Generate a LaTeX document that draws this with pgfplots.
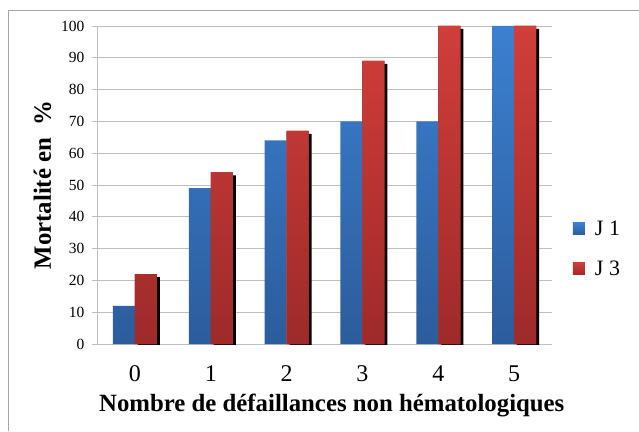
\documentclass[border=0pt]{standalone}
\usepackage{pgfplots}
\pgfplotsset{compat=1.18}
\usepackage{fontspec}
\setmainfont{Liberation Serif}
\definecolor{bluetop}{RGB}{60,128,208}
\definecolor{bluebot}{RGB}{44,92,156}
\definecolor{redtop}{RGB}{208,62,58}
\definecolor{redbot}{RGB}{158,42,42}
\definecolor{gridgray}{RGB}{190,190,190}
\makeatletter
\tikzset{noactions/.code={\let\tikz@preactions\pgfutil@empty\let\tikz@postactions\pgfutil@empty}}
\makeatother
\begin{document}
\begin{tikzpicture}[x=1pt,y=1pt]
\useasboundingbox (0,0) rectangle (639,431);
\draw[gray!70,line width=0.8pt] (8,0) -- (8,421) -- (639,421);
\begin{axis}[
  at={(97pt,87pt)}, anchor=south west,
  scale only axis, width=455pt, height=318pt,
  ybar=0pt, bar width=22pt,
  xmin=-0.5, xmax=5.5, ymin=0, ymax=100,
  xtick={0,1,2,3,4,5},
  xticklabels={0,1,2,3,4,5},
  minor xtick={-0.5,0.5,1.5,2.5,3.5,4.5,5.5},
  ytick={0,10,...,100},
  axis x line*=bottom, axis y line*=left,
  axis line style={gridgray, line width=0.8pt},
  ymajorgrids, grid style={gridgray, line width=0.8pt},
  tick align=outside,
  major tick length=5pt, minor tick length=7pt,
  xtick style={draw=none},
  minor x tick style={gridgray, line width=0.8pt},
  ytick style={gridgray, line width=0.8pt},
  /pgf/number format/assume math mode=true,
  yticklabel style={font=\fontsize{15.5}{17}\selectfont, xshift=-4pt},
  xticklabel style={font=\fontsize{24}{26}\selectfont, anchor=center, yshift=-25pt},
  xlabel={\textbf{Nombre de défaillances non hématologiques}},
  xlabel style={font=\fontsize{24.8}{28}\selectfont, at={(axis description cs:0.516,-0.193)}, anchor=center},
  ylabel={\textbf{Mortalité en~~\%}},
  ylabel style={font=\fontsize{24.8}{28}\selectfont, at={(axis description cs:-0.12,0.5)}, anchor=center},
  legend style={draw=none, fill=none, font=\fontsize{22}{24}\selectfont,
    at={(axis description cs:1.039,0.3)}, anchor=west, row sep=20pt},
  legend image code/.code={\path[#1] (0pt,-6pt) rectangle (12pt,6pt); \path (20pt,0pt);},
]
\addplot[draw=none, top color=bluetop, bottom color=bluebot] coordinates {(0,12) (1,49) (2,64) (3,70) (4,70) (5,100)};
\addlegendentry{J 1}
\addplot[draw=none, fill=redbot,
  preaction={fill=black, transform canvas={xshift=3pt, yshift=-3pt}},
  postaction={top color=redtop, bottom color=redbot},
  legend image code/.code={\path[noactions, top color=redtop, bottom color=redbot] (0pt,-6pt) rectangle (12pt,6pt); \path (20pt,0pt);}]
  coordinates {(0,22) (1,54) (2,67) (3,89) (4,100) (5,100)};
\addlegendentry{J 3}
\end{axis}
\end{tikzpicture}
\end{document}
